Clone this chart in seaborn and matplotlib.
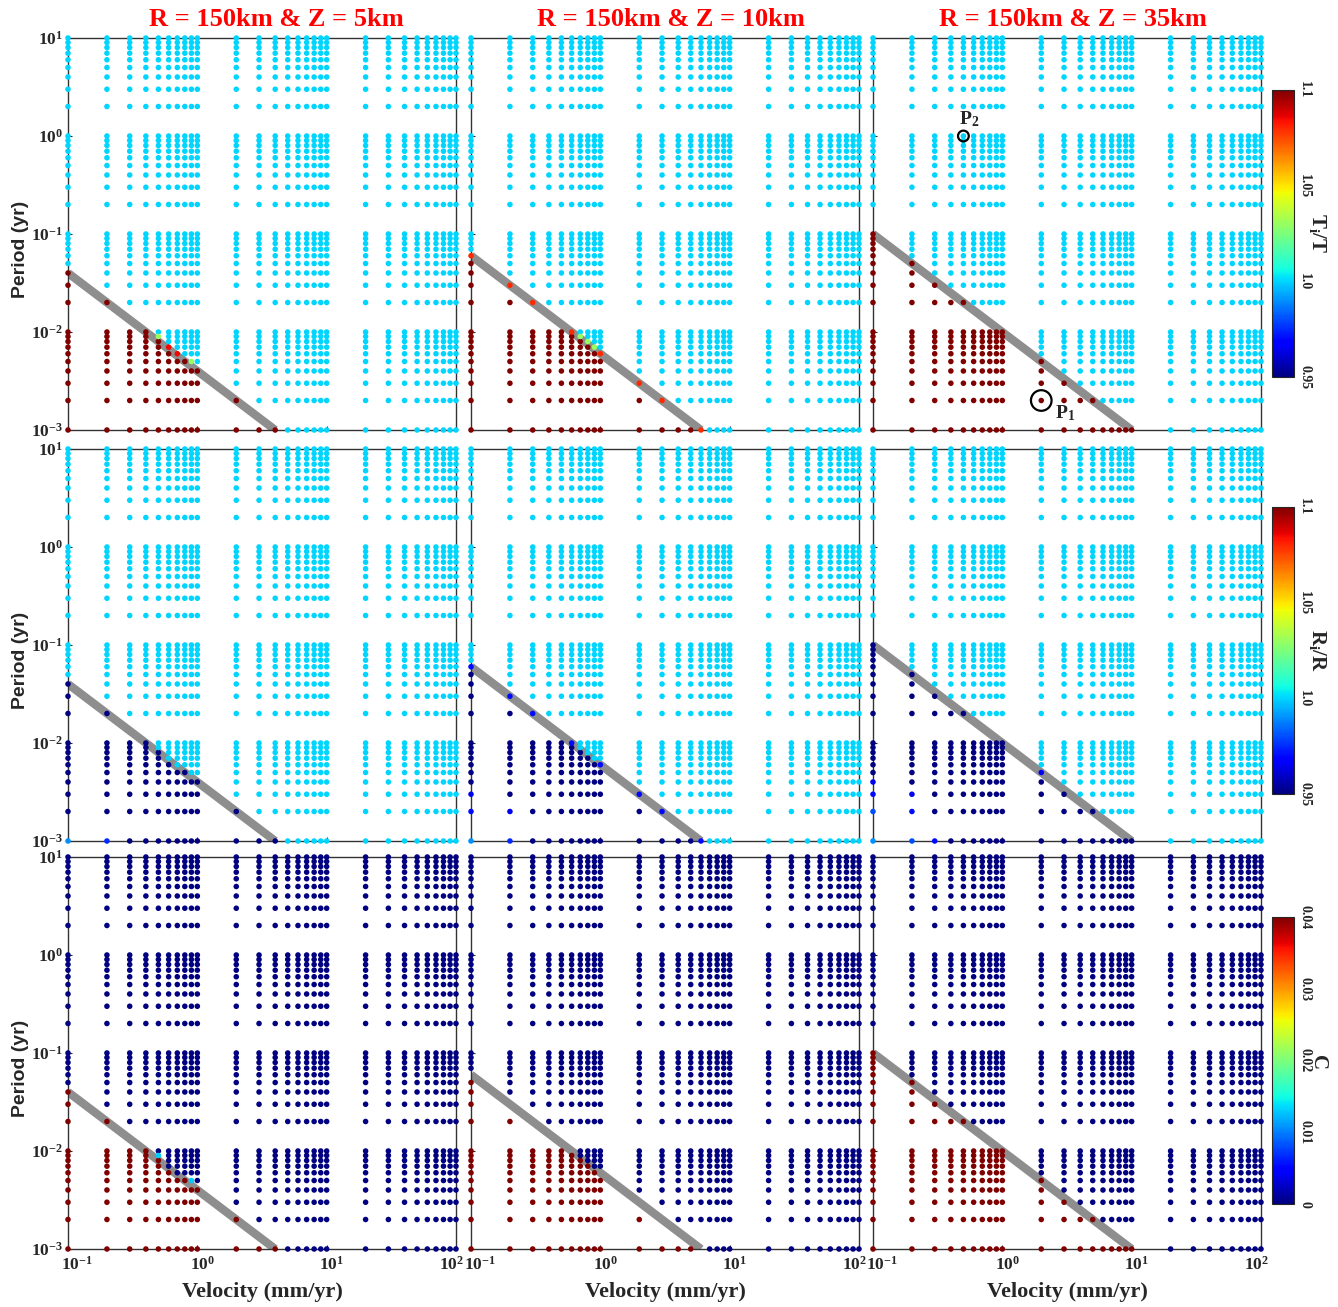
import matplotlib
matplotlib.use("Agg")
import matplotlib as mpl
import matplotlib.pyplot as plt
import matplotlib.transforms as mtransforms
from matplotlib.ticker import FixedLocator, NullLocator
import numpy as np
import pandas as pd
import seaborn as sns

# ---------------------------------------------------------------- data
velocities = [0.1, 0.2, 0.3, 0.4, 0.5, 0.6, 0.7, 0.8, 0.9, 1,
              2, 3, 4, 5, 6, 7, 8, 9, 10,
              20, 30, 40, 50, 60, 70, 80, 90, 100]
periods = [0.001, 0.002, 0.003, 0.004, 0.005, 0.006, 0.007, 0.008, 0.009,
           0.01, 0.02, 0.03, 0.04, 0.05, 0.06, 0.07, 0.08, 0.09,
           0.1, 0.2, 0.3, 0.4, 0.5, 0.6, 0.7, 0.8, 0.9,
           1, 2, 3, 4, 5, 6, 7, 8, 9, 10]

titles = ["R = 150km & Z = 5km", "R = 150km & Z = 10km", "R = 150km & Z = 35km"]

# highest period (per velocity) that takes the "below the line" value; 0 = none
boundary_z5 = [0.04, 0.02, 0.01, 0.01, 0.008, 0.006, 0.005, 0.005, 0.004, 0.004,
               0.002, 0.001, 0.001, 0, 0, 0, 0, 0, 0,
               0, 0, 0, 0, 0, 0, 0, 0, 0]
boundary_z10 = [0.06, 0.03, 0.02, 0.01, 0.01, 0.01, 0.008, 0.007, 0.006, 0.006,
                0.003, 0.002, 0.001, 0.001, 0.001, 0, 0, 0, 0,
                0, 0, 0, 0, 0, 0, 0, 0, 0]
boundary_z35 = [0.1, 0.05, 0.03, 0.02, 0.02, 0.01, 0.01, 0.01, 0.01, 0.01,
                0.005, 0.003, 0.002, 0.002, 0.001, 0.001, 0.001, 0.001, 0.001,
                0, 0, 0, 0, 0, 0, 0, 0, 0]
boundaries = [boundary_z5, boundary_z10, boundary_z35]

# grey critical line end points (velocity, period)
line_start_v = [0.1, 0.1, 0.1]
line_start_T = [0.04, 0.06, 0.1]
line_end_v = [4, 6, 10]
line_end_T = [0.001, 0.001, 0.001]

# rows: T_i/T, R_i/R, C
row_labels = [r"$\mathbf{T_i/T}$", r"$\mathbf{R_i/R}$", r"$\mathbf{C}$"]
row_vmin = [0.95, 0.95, 0.0]
row_vmax = [1.1, 1.1, 0.04]
above_value = [1.0, 1.0, 0.0]
below_value = [1.1, 0.95, 0.04]
cbar_ticks = [[0.95, 1.0, 1.05, 1.1], [0.95, 1.0, 1.05, 1.1], [0, 0.01, 0.02, 0.03, 0.04]]
cbar_ticklabels = [["0.95", "1.0", "1.05", "1.1"], ["0.95", "1.0", "1.05", "1.1"],
                   ["0", "0.01", "0.02", "0.03", "0.04"]]

# points near the line with intermediate values: (velocity, period, value)
online_z10 = [(0.1, 0.06), (0.2, 0.03), (0.3, 0.02), (0.6, 0.01),
              (1, 0.006), (2, 0.003), (3, 0.002), (6, 0.001)]
special_T_z5 = [(0.5, 0.009, 1.03), (0.6, 0.007, 1.085), (0.7, 0.006, 1.085), (0.9, 0.005, 1.03)]
special_T_z10 = [(v, t, 1.08) for v, t in online_z10] + \
                [(0.7, 0.009, 1.03), (0.8, 0.008, 1.03), (0.9, 0.007, 1.03)]
special_R_z5 = [(0.1, 0.001, 0.99), (0.2, 0.001, 0.975)]
special_R_z10 = [(v, t, 0.97) for v, t in online_z10] + \
                [(0.1, 0.001, 0.99), (0.2, 0.001, 0.975), (0.1, 0.002, 0.97),
                 (0.1, 0.003, 0.965), (0.2, 0.002, 0.965)]
special_R_z35 = [(0.1, 0.001, 0.99), (0.2, 0.001, 0.98), (0.3, 0.001, 0.97),
                 (0.1, 0.002, 0.98), (0.2, 0.002, 0.97), (0.1, 0.003, 0.97),
                 (0.2, 0.003, 0.965), (0.1, 0.004, 0.965), (2, 0.005, 0.965)]
special_C_z5 = [(0.5, 0.009, 0.013), (0.9, 0.005, 0.013)]
specials = {(0, 0): special_T_z5, (0, 1): special_T_z10, (0, 2): [],
            (1, 0): special_R_z5, (1, 1): special_R_z10, (1, 2): special_R_z35,
            (2, 0): special_C_z5, (2, 1): [], (2, 2): []}
# points hidden beneath the grey line
hidden = {(2, 1): online_z10}

# ---------------------------------------------------------------- style
sns.set_style("ticks")
plt.rcParams["font.family"] = ["Liberation Serif", "DejaVu Serif"]
plt.rcParams["font.weight"] = "bold"
plt.rcParams["mathtext.fontset"] = "custom"
plt.rcParams["mathtext.rm"] = "Liberation Serif:bold"
plt.rcParams["mathtext.bf"] = "Liberation Serif:bold"
plt.rcParams["mathtext.it"] = "Liberation Serif:bold:italic"

JET = mpl.colormaps["jet"]

W, H = 1338, 1307
fig = plt.figure(figsize=(W / 100, H / 100), dpi=100)

col_left = [68, 471, 873]
col_w = 388
row_top = [38, 449, 857]
row_h = 392
cbar_top = [90, 507, 917]
cbar_h = 287
title_cx = [276, 671, 1073]


def close(a, b):
    return abs(a - b) <= 1e-9 * max(abs(a), abs(b), 1e-12)


def in_list(v, t, lst):
    return any(close(v, p[0]) and close(t, p[1]) for p in lst)


xtick_vals = [0.1, 1, 10, 100]
xtick_lbl = [r"$\mathbf{10^{-1}}$", r"$\mathbf{10^{0}}$", r"$\mathbf{10^{1}}$", r"$\mathbf{10^{2}}$"]
xtick_shift = [6.5, 3.5, 3.5, -3.5]
ytick_vals = [0.001, 0.01, 0.1, 1, 10]
ytick_lbl = [r"$\mathbf{10^{-3}}$", r"$\mathbf{10^{-2}}$", r"$\mathbf{10^{-1}}$",
             r"$\mathbf{10^{0}}$", r"$\mathbf{10^{1}}$"]

DOT = 16

for r in range(3):
    for c in range(3):
        ax = fig.add_axes([col_left[c] / W, 1 - (row_top[r] + row_h) / H, col_w / W, row_h / H])
        ax.set_xscale("log")
        ax.set_yscale("log")
        bnd = boundaries[c]
        spec = specials[(r, c)]
        hid = hidden.get((r, c), [])
        xs, ys, vals = [], [], []
        for vi, v in enumerate(velocities):
            for t in periods:
                if in_list(v, t, hid) or in_list(v, t, spec):
                    continue
                below = bnd[vi] > 0 and t <= bnd[vi] * (1 + 1e-9)
                xs.append(v)
                ys.append(t)
                vals.append(below_value[r] if below else above_value[r])
        df = pd.DataFrame({"Velocity": xs, "Period": ys, "val": vals})
        sns.scatterplot(data=df, x="Velocity", y="Period", hue="val", palette=JET,
                        hue_norm=(row_vmin[r], row_vmax[r]), s=DOT, linewidth=0,
                        legend=False, ax=ax, clip_on=False, zorder=3)
        if spec:
            dfs = pd.DataFrame({"Velocity": [p[0] for p in spec], "Period": [p[1] for p in spec],
                                "val": [p[2] for p in spec]})
            sns.scatterplot(data=dfs, x="Velocity", y="Period", hue="val", palette=JET,
                            hue_norm=(row_vmin[r], row_vmax[r]), s=DOT, linewidth=0,
                            legend=False, ax=ax, clip_on=False, zorder=4)
        sns.lineplot(x=[line_start_v[c], line_end_v[c]], y=[line_start_T[c], line_end_T[c]],
                     color="#8e8e8e", linewidth=6, ax=ax, zorder=2, solid_capstyle="butt")

        ax.set_xlim(0.1, 100)
        ax.set_ylim(0.001, 10)
        ax.xaxis.set_major_locator(FixedLocator(xtick_vals))
        ax.yaxis.set_major_locator(FixedLocator(ytick_vals))
        ax.xaxis.set_minor_locator(NullLocator())
        ax.yaxis.set_minor_locator(NullLocator())
        ax.tick_params(direction="in", length=3, width=0.8, labelsize=12.5)
        ax.tick_params(axis="x", pad=5)
        for sp in ax.spines.values():
            sp.set_linewidth(1.0)
            sp.set_color("#333333")
        ax.set_xlabel("")
        ax.set_ylabel("")
        if r == 2:
            ax.set_xticklabels(xtick_lbl)
            for lbl, dx in zip(ax.get_xticklabels(), xtick_shift):
                lbl.set_transform(lbl.get_transform() +
                                  mtransforms.ScaledTranslation(dx / 72, 0, fig.dpi_scale_trans))
            ax.set_xlabel("Velocity (mm/yr)", fontsize=16, fontweight="bold",
                          family="Liberation Serif", labelpad=6)
        else:
            ax.set_xticklabels([])
        if c == 0:
            ax.set_yticklabels(ytick_lbl)
            ax.set_ylabel("Period (yr)", fontsize=14, fontweight="bold",
                          family="Liberation Sans", labelpad=4)
            ax.yaxis.set_label_coords(-0.10, 0.46)
        else:
            ax.set_yticklabels([])

        if r == 0 and c == 2:
            ax.scatter([0.5], [1], s=60, facecolors="none", edgecolors="black",
                       linewidths=1.6, zorder=5, clip_on=False)
            ax.annotate(r"$\mathbf{P_2}$", (0.5, 1), xytext=(4, 12), textcoords="offset points",
                        ha="center", va="center", fontsize=14)
            ax.scatter([2], [0.002], s=220, facecolors="none", edgecolors="black",
                       linewidths=1.6, zorder=5, clip_on=False)
            ax.annotate(r"$\mathbf{P_1}$", (2, 0.002), xytext=(17, -9), textcoords="offset points",
                        ha="center", va="center", fontsize=14)

    # colour bar per row
    cax = fig.add_axes([1272 / W, 1 - (cbar_top[r] + cbar_h) / H, 22 / W, cbar_h / H])
    sm = mpl.cm.ScalarMappable(norm=mpl.colors.Normalize(row_vmin[r], row_vmax[r]), cmap=JET)
    cb = fig.colorbar(sm, cax=cax)
    cb.set_ticks(cbar_ticks[r])
    cb.ax.set_yticklabels(cbar_ticklabels[r], rotation=270, va="center", fontsize=10)
    cb.ax.tick_params(length=2, width=0.6, direction="in", pad=3)
    cb.outline.set_linewidth(0.8)
    cb.set_label(row_labels[r], rotation=270, fontsize=15, labelpad=12)

for c in range(3):
    fig.text(title_cx[c] / W, 1 - 19 / H, titles[c], color="#ff0000", fontsize=19,
             fontweight="bold", family="Liberation Serif", ha="center", va="center")

fig.savefig("out.png", dpi=100, facecolor="white")
